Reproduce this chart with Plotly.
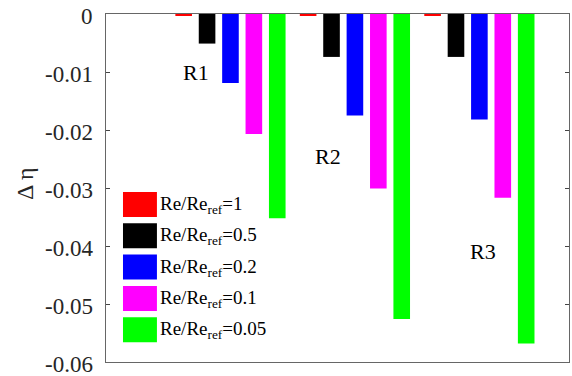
import plotly.graph_objects as go

groups = ["R1", "R2", "R3"]
series_names = ["Re/Re<sub>ref</sub>=1", "Re/Re<sub>ref</sub>=0.5", "Re/Re<sub>ref</sub>=0.2",
                "Re/Re<sub>ref</sub>=0.1", "Re/Re<sub>ref</sub>=0.05"]
colors = ["#ff0000", "#000000", "#0000ff", "#ff00ff", "#00ff00"]
values = [
    [-0.0003, -0.0003, -0.0003],
    [-0.0051, -0.0074, -0.0074],
    [-0.0119, -0.0175, -0.0182],
    [-0.0207, -0.0301, -0.0317],
    [-0.0352, -0.0526, -0.0568],
]
ytick_vals = [0, -0.01, -0.02, -0.03, -0.04, -0.05, -0.06]
ytick_text = ["0", "-0.01", "-0.02", "-0.03", "-0.04", "-0.05", "-0.06"]
y_title = "Δ η"
label_pos = [(0.72, -0.0100), (1.78, -0.0245), (3.03, -0.0409)]

FONT = "Liberation Serif"
xpos = [1, 2, 3]

fig = go.Figure()
for name, col, vals in zip(series_names, colors, values):
    fig.add_trace(go.Bar(x=xpos, y=vals, name=name, marker=dict(color=col, line=dict(width=0)),
                         showlegend=False))

for g, (lx, ly) in zip(groups, label_pos):
    fig.add_annotation(x=lx, y=ly, text=g, showarrow=False, xref="x", yref="y",
                       font=dict(family=FONT, size=22, color="black"))

# tick labels (drawn on the y scale)
for v, t in zip(ytick_vals, ytick_text):
    fig.add_annotation(xref="paper", yref="y", x=-0.024, y=v, text=t, showarrow=False,
                       xanchor="right", yanchor="middle", yshift=-2,
                       font=dict(family=FONT, size=23, color="#262626"))

# axis title
fig.add_annotation(xref="paper", yref="paper", x=-0.175, y=0.514, text=y_title, showarrow=False,
                   textangle=-90, xanchor="center", yanchor="middle",
                   font=dict(family=FONT, size=24, color="#262626"))

# custom legend with large swatches
x0, x1 = 0.0367, 0.110
top_px = 192
row_h = 31.3
sw_h = 25
for i, (name, col) in enumerate(zip(series_names, colors)):
    yt = top_px + i * row_h
    yb = yt + sw_h
    fig.add_shape(type="rect", xref="paper", yref="paper", x0=x0, x1=x1,
                  y0=(362 - yb) / 348, y1=(362 - yt) / 348,
                  fillcolor=col, line=dict(width=0))
    fig.add_annotation(xref="paper", yref="paper", x=x1 + 0.002, y=(362 - (yt + 13)) / 348,
                       xanchor="left", yanchor="middle", text=name, showarrow=False,
                       font=dict(family=FONT, size=19, color="black"))

fig.update_layout(
    template="none",
    width=572, height=376,
    margin=dict(l=106, r=3, t=14, b=14),
    plot_bgcolor="white", paper_bgcolor="white",
    barmode="group", bargap=0.06, bargroupgap=0.29,
    showlegend=False,
    font=dict(family=FONT, size=24, color="#262626"),
    xaxis=dict(range=[0, 3.72], showticklabels=False, ticks="", showgrid=False,
               zeroline=False, showline=True, linecolor="#666666", linewidth=1, mirror=True),
    yaxis=dict(range=[-0.06, 0], tickmode="array", tickvals=ytick_vals, showticklabels=False,
               ticks="inside", ticklen=4, tickcolor="#444444", showgrid=False, zeroline=False,
               showline=True, linecolor="#666666", linewidth=1, mirror="ticks"),
)

fig.write_html("out.html")
